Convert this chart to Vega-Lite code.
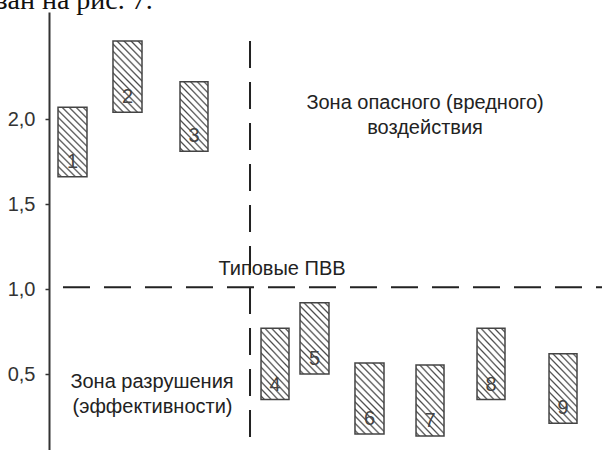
{
  "$schema": "https://vega.github.io/schema/vega-lite/v6.json",
  "autosize": "none",
  "width": 553,
  "height": 438,
  "padding": {"left": 49, "top": 12, "right": 0, "bottom": 0},
  "background": "white",
  "config": {"view": {"stroke": null}, "font": "Liberation Sans"},
  "datasets": {
    "bars": [
      {"n": "1", "x0": 0.163, "x1": 0.687, "low": 1.66, "high": 2.07},
      {"n": "2", "x0": 1.157, "x1": 1.682, "low": 2.04, "high": 2.46},
      {"n": "3", "x0": 2.369, "x1": 2.875, "low": 1.81, "high": 2.22},
      {"n": "4", "x0": 3.834, "x1": 4.34, "low": 0.35, "high": 0.77},
      {"n": "5", "x0": 4.539, "x1": 5.063, "low": 0.5, "high": 0.92},
      {"n": "6", "x0": 5.533, "x1": 6.058, "low": 0.147, "high": 0.565},
      {"n": "7", "x0": 6.637, "x1": 7.143, "low": 0.135, "high": 0.553},
      {"n": "8", "x0": 7.74, "x1": 8.246, "low": 0.35, "high": 0.77},
      {"n": "9", "x0": 9.042, "x1": 9.548, "low": 0.21, "high": 0.62}
    ],
    "notes": [
      {"t": "Зона опасного (вредного)", "x": 6.8, "y": 2.094},
      {"t": "воздействия", "x": 6.8, "y": 1.947},
      {"t": "Типовые ПВВ", "x": 4.213, "y": 1.118},
      {"t": "Зона разрушения", "x": 1.863, "y": 0.453},
      {"t": "(эффективности)", "x": 1.872, "y": 0.306}
    ]
  },
  "layer": [
    {
      "data": {"values": [{"x": 0.253, "x2": 10, "y": 1.01}]},
      "mark": {"type": "rule", "stroke": "#222", "strokeWidth": 2, "strokeDash": [27, 14]},
      "encoding": {
        "x": {"field": "x", "type": "quantitative", "scale": {"domain": [0, 10], "nice": false, "zero": false}, "axis": null},
        "x2": {"field": "x2"},
        "y": {"field": "y", "type": "quantitative"}
      }
    },
    {
      "data": {"values": [{"x": 3.635, "y": 2.46, "y2": 0.053}]},
      "mark": {"type": "rule", "stroke": "#222", "strokeWidth": 2, "strokeDash": [27, 14]},
      "encoding": {
        "x": {"field": "x", "type": "quantitative"},
        "y": {"field": "y", "type": "quantitative"},
        "y2": {"field": "y2"}
      }
    },
    {
      "data": {"name": "bars"},
      "mark": {
        "type": "rect",
        "stroke": "#444",
        "strokeWidth": 1.5,
        "fill": {
          "gradient": "linear",
          "x1": 0, "y1": 1, "x2": 0.5, "y2": -0.2,
          "stops": [
            {"offset": 0, "color": "#ffffff"},
            {"offset": 0.0179, "color": "#ffffff"}, {"offset": 0.0357, "color": "#4a4a4a"}, {"offset": 0.0536, "color": "#ffffff"},
            {"offset": 0.0893, "color": "#ffffff"}, {"offset": 0.1071, "color": "#4a4a4a"}, {"offset": 0.125, "color": "#ffffff"},
            {"offset": 0.1607, "color": "#ffffff"}, {"offset": 0.1786, "color": "#4a4a4a"}, {"offset": 0.1964, "color": "#ffffff"},
            {"offset": 0.2321, "color": "#ffffff"}, {"offset": 0.25, "color": "#4a4a4a"}, {"offset": 0.2679, "color": "#ffffff"},
            {"offset": 0.3036, "color": "#ffffff"}, {"offset": 0.3214, "color": "#4a4a4a"}, {"offset": 0.3393, "color": "#ffffff"},
            {"offset": 0.375, "color": "#ffffff"}, {"offset": 0.3929, "color": "#4a4a4a"}, {"offset": 0.4107, "color": "#ffffff"},
            {"offset": 0.4464, "color": "#ffffff"}, {"offset": 0.4643, "color": "#4a4a4a"}, {"offset": 0.4821, "color": "#ffffff"},
            {"offset": 0.5179, "color": "#ffffff"}, {"offset": 0.5357, "color": "#4a4a4a"}, {"offset": 0.5536, "color": "#ffffff"},
            {"offset": 0.5893, "color": "#ffffff"}, {"offset": 0.6071, "color": "#4a4a4a"}, {"offset": 0.625, "color": "#ffffff"},
            {"offset": 0.6607, "color": "#ffffff"}, {"offset": 0.6786, "color": "#4a4a4a"}, {"offset": 0.6964, "color": "#ffffff"},
            {"offset": 0.7321, "color": "#ffffff"}, {"offset": 0.75, "color": "#4a4a4a"}, {"offset": 0.7679, "color": "#ffffff"},
            {"offset": 0.8036, "color": "#ffffff"}, {"offset": 0.8214, "color": "#4a4a4a"}, {"offset": 0.8393, "color": "#ffffff"},
            {"offset": 0.875, "color": "#ffffff"}, {"offset": 0.8929, "color": "#4a4a4a"}, {"offset": 0.9107, "color": "#ffffff"},
            {"offset": 0.9464, "color": "#ffffff"}, {"offset": 0.9643, "color": "#4a4a4a"}, {"offset": 0.9821, "color": "#ffffff"},
            {"offset": 1, "color": "#ffffff"}
          ]
        }
      },
      "encoding": {
        "x": {"field": "x0", "type": "quantitative"},
        "x2": {"field": "x1"},
        "y": {"field": "low", "type": "quantitative"},
        "y2": {"field": "high"}
      }
    },
    {
      "data": {"name": "bars"},
      "transform": [{"calculate": "(datum.x0 + datum.x1) / 2", "as": "xc"}],
      "mark": {"type": "text", "font": "Liberation Sans", "fontSize": 20, "color": "#444", "baseline": "middle", "align": "center", "dy": -15},
      "encoding": {
        "x": {"field": "xc", "type": "quantitative"},
        "y": {"field": "low", "type": "quantitative"},
        "text": {"field": "n"}
      }
    },
    {
      "data": {"name": "notes"},
      "mark": {"type": "text", "font": "Liberation Sans", "fontSize": 20, "color": "#222", "baseline": "middle", "align": "center"},
      "encoding": {
        "x": {"field": "x", "type": "quantitative"},
        "y": {"field": "y", "type": "quantitative"},
        "text": {"field": "t"}
      }
    },
    {
      "data": {"values": [{"t": "зан на рис. 7.", "x": -0.95, "y": 2.65}]},
      "mark": {"type": "text", "font": "Liberation Serif", "fontSize": 28, "color": "#111", "baseline": "alphabetic", "align": "left"},
      "encoding": {
        "x": {"field": "x", "type": "quantitative"},
        "y": {
          "field": "y", "type": "quantitative",
          "scale": {"domain": [0.053, 2.63], "nice": false, "zero": false},
          "axis": {
            "orient": "left",
            "values": [0.5, 1, 1.5, 2],
            "labelExpr": "replace(format(datum.value, '.1f'), '.', ',')",
            "domainColor": "#333",
            "domainWidth": 2,
            "tickColor": "#333",
            "tickWidth": 1.5,
            "tickSize": 4,
            "labelPadding": 10,
            "labelFont": "Liberation Sans",
            "labelFontSize": 20,
            "labelColor": "#333",
            "grid": false,
            "title": null
          }
        },
        "text": {"field": "t"}
      }
    }
  ]
}
